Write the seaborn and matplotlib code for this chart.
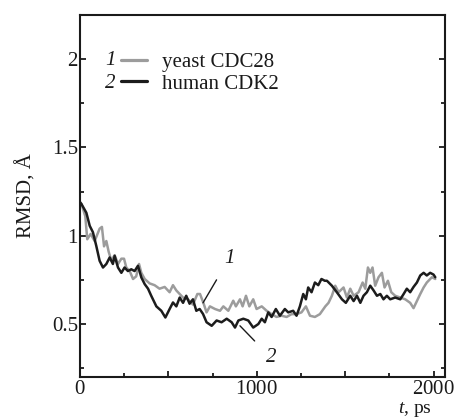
import numpy as np
import pandas as pd
import matplotlib
matplotlib.use("Agg")
import matplotlib.pyplot as plt
import seaborn as sns
from matplotlib.ticker import FixedLocator, MultipleLocator, FixedFormatter
from matplotlib.lines import Line2D

# ---- data ----
t_cdk2 = [0, 8, 36, 55, 73, 92, 111, 130, 149, 168, 186, 196, 215, 234, 252, 271, 290,
          309, 328, 347, 366, 385, 403, 432, 460, 483, 507, 526, 545, 564, 583, 601,
          620, 639, 658, 677, 696, 716, 745, 773, 801, 830, 858, 877, 896, 924, 952,
          980, 1009, 1028, 1046, 1065, 1084, 1108, 1131, 1159, 1178, 1206, 1225, 1244,
          1263, 1278, 1291, 1310, 1329, 1348, 1366, 1385, 1397, 1425, 1453, 1482,
          1504, 1529, 1548, 1567, 1586, 1604, 1623, 1642, 1661, 1680, 1699, 1717,
          1736, 1755, 1783, 1812, 1831, 1849, 1868, 1887, 1906, 1925, 1944, 1962,
          1981, 2000, 2010]
rmsd_cdk2 = [1.19, 1.18, 1.13, 1.056, 1.02, 0.943, 0.858, 0.82, 0.84, 0.877, 0.84,
             0.886, 0.82, 0.79, 0.82, 0.80, 0.81, 0.80, 0.83, 0.764, 0.726, 0.70, 0.66,
             0.60, 0.575, 0.537, 0.585, 0.622, 0.60, 0.65, 0.62, 0.66, 0.615, 0.64,
             0.575, 0.585, 0.557, 0.51, 0.49, 0.52, 0.51, 0.53, 0.51, 0.48, 0.52, 0.53,
             0.52, 0.48, 0.50, 0.53, 0.51, 0.566, 0.54, 0.585, 0.547, 0.585, 0.566,
             0.575, 0.547, 0.60, 0.67, 0.64, 0.707, 0.68, 0.735, 0.72, 0.755, 0.745,
             0.745, 0.717, 0.68, 0.64, 0.62, 0.66, 0.63, 0.66, 0.62, 0.66, 0.68, 0.717,
             0.69, 0.66, 0.67, 0.64, 0.66, 0.64, 0.65, 0.64, 0.67, 0.70, 0.68, 0.71,
             0.735, 0.775, 0.79, 0.775, 0.79, 0.78, 0.765]

t_cdc28 = [0, 8, 30, 41, 60, 83, 111, 124, 136, 149, 162, 177, 196, 215, 234, 249, 262,
           281, 300, 318, 334, 347, 366, 394, 422, 450, 479, 507, 526, 545, 564, 583,
           611, 639, 664, 679, 698, 716, 735, 764, 792, 811, 839, 867, 882, 905, 920,
           939, 958, 980, 999, 1028, 1056, 1084, 1112, 1140, 1169, 1197, 1225, 1253,
           1278, 1301, 1329, 1357, 1388, 1406, 1425, 1444, 1463, 1491, 1510, 1529,
           1548, 1576, 1599, 1614, 1629, 1642, 1655, 1670, 1689, 1708, 1723, 1742,
           1761, 1783, 1812, 1840, 1868, 1887, 1906, 1925, 1944, 1962, 1991, 2010]
rmsd_cdc28 = [1.19, 1.18, 1.11, 0.98, 1.01, 0.97, 1.04, 1.05, 0.94, 0.97, 0.91, 0.86,
              0.89, 0.84, 0.87, 0.87, 0.82, 0.80, 0.755, 0.77, 0.84, 0.79, 0.755, 0.73,
              0.72, 0.70, 0.71, 0.68, 0.72, 0.69, 0.67, 0.65, 0.64, 0.61, 0.67, 0.67,
              0.62, 0.566, 0.60, 0.585, 0.575, 0.60, 0.575, 0.632, 0.60, 0.64, 0.60,
              0.66, 0.60, 0.64, 0.585, 0.60, 0.575, 0.556, 0.54, 0.547, 0.54, 0.556,
              0.556, 0.566, 0.60, 0.547, 0.54, 0.556, 0.60, 0.62, 0.66, 0.717, 0.68,
              0.707, 0.65, 0.70, 0.66, 0.68, 0.735, 0.70, 0.82, 0.79, 0.82, 0.717,
              0.765, 0.79, 0.707, 0.745, 0.68, 0.66, 0.65, 0.64, 0.62, 0.59, 0.63,
              0.67, 0.707, 0.735, 0.765, 0.755]

series_labels = ["yeast CDC28", "human CDK2"]
series_numbers = ["1", "2"]
x_tick_labels = ["0", "", "1000", "", "2000"]
y_tick_labels = ["0.5", "1", "1.5", "2"]

df = pd.concat([
    pd.DataFrame({"t": t_cdc28, "rmsd": rmsd_cdc28, "protein": series_labels[0]}),
    pd.DataFrame({"t": t_cdk2, "rmsd": rmsd_cdk2, "protein": series_labels[1]}),
])

# ---- style ----
sns.set_theme(style="white")
plt.rcParams["font.family"] = ["Liberation Serif", "DejaVu Serif"]
plt.rcParams["mathtext.fontset"] = "custom"
plt.rcParams["mathtext.rm"] = "Liberation Serif"
plt.rcParams["mathtext.it"] = "Liberation Serif:italic"

FS = 15
INK = "#1a1a1a"
palette = {series_labels[0]: "#9c9c9c", series_labels[1]: "#1c1c1c"}

fig = plt.figure(figsize=(4.56, 4.18), dpi=100)
ax = fig.add_axes([80 / 456, 1 - 377 / 418, 365 / 456, 362 / 418])

sns.lineplot(data=df, x="t", y="rmsd", hue="protein", palette=palette,
             linewidth=1.8, ax=ax, legend=False, estimator=None, sort=False)

ax.set_xlim(0, 2065)
ax.set_ylim(0.2, 2.25)

ax.xaxis.set_major_locator(FixedLocator([0, 500, 1000, 1500, 2000]))
ax.xaxis.set_major_formatter(FixedFormatter(
    [f"$\\mathrm{{{s}}}$" if s else "" for s in x_tick_labels]))
ax.xaxis.set_minor_locator(MultipleLocator(250))
ax.yaxis.set_major_locator(FixedLocator([0.5, 1.0, 1.5, 2.0]))
ax.yaxis.set_major_formatter(FixedFormatter(y_tick_labels))
ax.yaxis.set_minor_locator(MultipleLocator(0.25))

ax.tick_params(which="both", direction="in", left=True, right=True, bottom=True,
               top=False, labelsize=FS, colors=INK, width=1.3)
ax.tick_params(which="major", length=4.5)
ax.tick_params(which="minor", length=3)
ax.tick_params(axis="y", pad=1.5)
ax.tick_params(axis="x", pad=2.5)

for s in ax.spines.values():
    s.set_visible(True)
    s.set_linewidth(1.5)
    s.set_color(INK)

ax.set_ylabel("RMSD, Å", fontsize=FS, color=INK)
ax.yaxis.set_label_coords(-0.118, 0.5)
ax.set_xlabel("$t$, ps", fontsize=14, color=INK)
ax.xaxis.label.set_verticalalignment("baseline")
ax.xaxis.set_label_coords(0.918, -0.099)

# legend
handles = [Line2D([], [], color=palette[l], linewidth=2.3) for l in series_labels]
leg = ax.legend(handles, series_labels, loc="upper left", frameon=False,
                bbox_to_anchor=(0.113, 0.897), borderaxespad=0, borderpad=0,
                handlelength=1.25, handletextpad=0.7, labelspacing=0.1,
                fontsize=FS)
for txt in leg.get_texts():
    txt.set_color(INK)
for i, num in enumerate(series_numbers):
    ax.text(0.098, 0.873 - i * 0.061, num, transform=ax.transAxes, fontsize=FS,
            fontstyle="italic", ha="right", va="center", color=INK)

# curve annotations
ax.annotate(series_numbers[0], xy=(696, 0.62), xytext=(843, 0.87),
            fontsize=FS, fontstyle="italic", ha="center", va="center", color=INK,
            arrowprops=dict(arrowstyle="-", color=INK, lw=1.0, shrinkA=7, shrinkB=0))
ax.annotate(series_numbers[1], xy=(905, 0.49), xytext=(1080, 0.309),
            fontsize=FS, fontstyle="italic", ha="center", va="center", color=INK,
            arrowprops=dict(arrowstyle="-", color=INK, lw=1.0, shrinkA=8, shrinkB=0))

fig.savefig("out.png", dpi=100)
